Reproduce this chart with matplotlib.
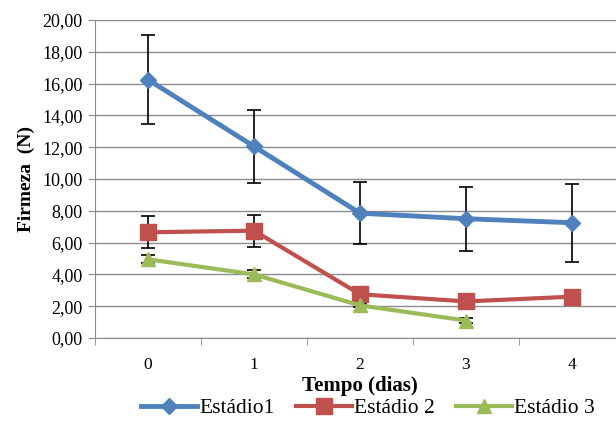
# import
import numpy as np
import matplotlib.pyplot as plt
from matplotlib.lines import Line2D

# data
dias = ['0', '1', '2', '3', '4']
estadio1 = [16.25, 12.05, 7.85, 7.50, 7.25]
estadio1_err = [2.8, 2.3, 1.95, 2.0, 2.45]
estadio2 = [6.65, 6.75, 2.75, 2.30, 2.60]
estadio2_err = [1.0, 1.0, 0.2, 0.2, 0.0]
estadio3 = [4.95, 4.00, 2.05, 1.10]
estadio3_err = [0.25, 0.25, 0.1, 0.15]

# colors
blue = '#4F81BD'
red = '#C0504D'
green = '#9BBB59'
grid_grey = '#8C8C8C'

plt.rcParams['font.family'] = ['Liberation Serif', 'DejaVu Serif']

fig = plt.figure(figsize = (6.16, 4.21), dpi = 100)
ax = fig.add_axes([95 / 616, 1 - 338 / 421, 530 / 616, 318 / 421])

x = np.arange(len(dias))
x3 = np.arange(len(estadio3))

series = [(estadio1, estadio1_err, x, blue, 'D', 8, 3.5, 'Estádio1'),
          (estadio2, estadio2_err, x, red, 's', 11, 3, 'Estádio 2'),
          (estadio3, estadio3_err, x3, green, '^', 10, 3, 'Estádio 3')]

handles = []
for vals, err, xs, col, mk, ms, lw, lab in series:
    ax.errorbar(xs, vals, yerr = err, color = col, lw = lw,
                marker = mk, ms = ms, ecolor = 'black', elinewidth = 1.2,
                capsize = 5, capthick = 1.2, zorder = 3)
    handles.append(Line2D([], [], color = col, lw = lw, marker = mk, ms = ms, label = lab))

# axes limits and ticks
ax.set_xlim(-0.5, 4.5)
ax.set_ylim(0, 20)
yt = np.arange(0, 21, 2)
ax.set_yticks(yt)
ax.set_yticklabels([('%.2f' % v).replace('.', ',') for v in yt])
ax.set_xticks(x)
ax.set_xticklabels(dias)
ax.set_xticks(np.arange(-0.5, 4.6, 1), minor = True)
ax.tick_params(axis = 'x', which = 'major', length = 0, labelsize = 12.5, pad = 14)
ax.tick_params(axis = 'x', which = 'minor', length = 5, color = grid_grey, direction = 'out')
ax.tick_params(axis = 'y', length = 5, color = grid_grey, labelsize = 13, pad = 4)

ax.grid(axis = 'y', color = grid_grey, lw = 1)
ax.set_axisbelow(True)
for side in ['top', 'right']:
    ax.spines[side].set_visible(False)
ax.spines['left'].set_color(grid_grey)
ax.spines['bottom'].set_color(grid_grey)

ax.set_ylabel('Firmeza  (N)', fontsize = 14, fontweight = 'bold', labelpad = 5)
fig.text(360 / 616, 1 - 386 / 421, 'Tempo (dias)', fontsize = 15,
         fontweight = 'bold', ha = 'center', va = 'center')

fig.legend(handles = handles, loc = 'center', bbox_to_anchor = (368 / 616, 1 - 408 / 421),
           ncol = 3, frameon = False, fontsize = 15.5, handlelength = 2.6,
           handletextpad = 0.1, columnspacing = 1.0, borderaxespad = 0)

fig.savefig('out.png', dpi = 100)
